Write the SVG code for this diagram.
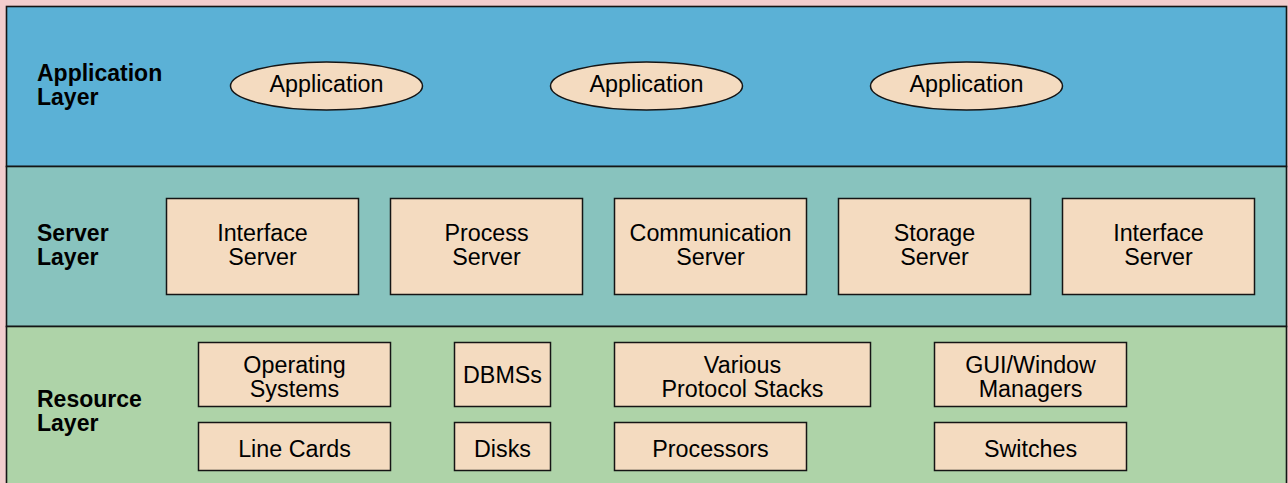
<svg xmlns="http://www.w3.org/2000/svg" width="1288" height="483" viewBox="0 0 1288 483">
<style>
.layer{stroke:#151515;stroke-width:1.6}
.box{fill:#f4dbc0;stroke:#151515;stroke-width:1.5}
.lbl{font-family:"Liberation Sans",Arial,sans-serif;font-weight:bold;font-size:23px;fill:#000}
.t{font-family:"Liberation Sans",Arial,sans-serif;font-size:23.3px;fill:#000;text-anchor:middle}
</style>
<rect x="0" y="0" width="1288" height="483" fill="#f2cdcd"/>
<g id="application-layer">
<rect class="layer" x="6.5" y="6.5" width="1280" height="160" fill="#5bb1d6"/>
<text class="lbl" x="37" y="80.5">Application</text>
<text class="lbl" x="37" y="104.5">Layer</text>
</g>
<g id="server-layer">
<rect class="layer" x="6.5" y="166.5" width="1280" height="160" fill="#88c3be"/>
<text class="lbl" x="37" y="240.5">Server</text>
<text class="lbl" x="37" y="264.5">Layer</text>
</g>
<g id="resource-layer">
<rect class="layer" x="6.5" y="326.5" width="1280" height="170" fill="#aed3a8"/>
<text class="lbl" x="37" y="407">Resource</text>
<text class="lbl" x="37" y="431">Layer</text>
</g>
<g id="app1"><ellipse class="box" cx="326.5" cy="86" rx="96" ry="24"/><text class="t" x="326.5" y="92">Application</text></g>
<g id="app2"><ellipse class="box" cx="646.5" cy="86" rx="96" ry="24"/><text class="t" x="646.5" y="92">Application</text></g>
<g id="app3"><ellipse class="box" cx="966.5" cy="86" rx="96" ry="24"/><text class="t" x="966.5" y="92">Application</text></g>
<g id="srv1"><rect class="box" x="166.5" y="198.5" width="192" height="96"/><text class="t" x="262.5" y="240.5">Interface</text><text class="t" x="262.5" y="264.5">Server</text></g>
<g id="srv2"><rect class="box" x="390.5" y="198.5" width="192" height="96"/><text class="t" x="486.5" y="240.5">Process</text><text class="t" x="486.5" y="264.5">Server</text></g>
<g id="srv3"><rect class="box" x="614.5" y="198.5" width="192" height="96"/><text class="t" x="710.5" y="240.5">Communication</text><text class="t" x="710.5" y="264.5">Server</text></g>
<g id="srv4"><rect class="box" x="838.5" y="198.5" width="192" height="96"/><text class="t" x="934.5" y="240.5">Storage</text><text class="t" x="934.5" y="264.5">Server</text></g>
<g id="srv5"><rect class="box" x="1062.5" y="198.5" width="192" height="96"/><text class="t" x="1158.5" y="240.5">Interface</text><text class="t" x="1158.5" y="264.5">Server</text></g>
<g id="os"><rect class="box" x="198.5" y="342.5" width="192" height="64"/><text class="t" x="294.5" y="373">Operating</text><text class="t" x="294.5" y="396.5">Systems</text></g>
<g id="linecards"><rect class="box" x="198.5" y="422.5" width="192" height="48"/><text class="t" x="294.5" y="456.5">Line Cards</text></g>
<g id="dbms"><rect class="box" x="454.5" y="342.5" width="96" height="64"/><text class="t" x="502.5" y="383">DBMSs</text></g>
<g id="disks"><rect class="box" x="454.5" y="422.5" width="96" height="48"/><text class="t" x="502.5" y="456.5">Disks</text></g>
<g id="protocols"><rect class="box" x="614.5" y="342.5" width="256" height="64"/><text class="t" x="742.5" y="373">Various</text><text class="t" x="742.5" y="396.5">Protocol Stacks</text></g>
<g id="processors"><rect class="box" x="614.5" y="422.5" width="192" height="48"/><text class="t" x="710.5" y="456.5">Processors</text></g>
<g id="gui"><rect class="box" x="934.5" y="342.5" width="192" height="64"/><text class="t" x="1030.5" y="373">GUI/Window</text><text class="t" x="1030.5" y="396.5">Managers</text></g>
<g id="switches"><rect class="box" x="934.5" y="422.5" width="192" height="48"/><text class="t" x="1030.5" y="456.5">Switches</text></g>
<g id="connectors"></g>
</svg>
